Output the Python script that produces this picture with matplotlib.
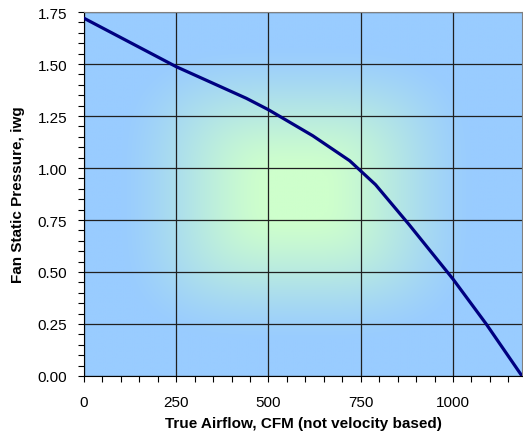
import numpy as np
import matplotlib
matplotlib.use("Agg")
import matplotlib.pyplot as plt
from matplotlib.ticker import MultipleLocator, FormatStrFormatter

# Data
airflow_cfm = [0, 250, 440, 500, 620, 720, 790, 880, 1000, 1090, 1187]
static_pressure = [1.72, 1.487, 1.335, 1.28, 1.155, 1.035, 0.92, 0.73, 0.466, 0.25, 0.0]
x_ticks = [0, 250, 500, 750, 1000]
y_ticks = [0.00, 0.25, 0.50, 0.75, 1.00, 1.25, 1.50, 1.75]

plt.rcParams['font.family'] = ['Liberation Sans', 'DejaVu Sans']

fig = plt.figure(figsize=(5.23, 4.39), dpi=100)
ax = fig.add_axes([84/523, 1-377/439, (522-84)/523, (377-13)/439])

xmax = airflow_cfm[-1]
ymax = 1.75

# background: rounded-rectangular gradient from center (green) to edges (blue)
n = 400
u = np.linspace(-1, 1, n)
U, V = np.meshgrid(u, u)
p = 3.5
t = (np.abs(U + 0.03) ** p + np.abs(V) ** p) ** (1 / p)
s = np.clip((t - 0.15) / (0.80 - 0.15), 0, 1)
s = 0.5 * s + 0.5 * s * s * (3 - 2 * s)
c_center = np.array([206, 255, 204]) / 255
c_edge = np.array([153, 204, 255]) / 255
img = c_center[None, None, :] * (1 - s[..., None]) + c_edge[None, None, :] * s[..., None]
ax.imshow(img, extent=[0, xmax, 0, ymax], aspect='auto', zorder=0, interpolation='bilinear')

ax.plot(airflow_cfm, static_pressure, color='#000080', lw=2.3, zorder=3, solid_joinstyle='round')

ax.set_xlim(0, xmax)
ax.set_ylim(0, ymax)
ax.set_xticks(x_ticks)
ax.set_yticks(y_ticks)
ax.yaxis.set_major_formatter(FormatStrFormatter('%.2f'))
ax.xaxis.set_minor_locator(MultipleLocator(50))
ax.yaxis.set_minor_locator(MultipleLocator(0.05))
ax.grid(True, which='major', color='#202020', lw=0.9)
ax.tick_params(which='both', direction='out', length=4, width=0.8, color='black', labelsize=11)
ax.tick_params(axis='x', which='major', pad=10)
ax.tick_params(axis='y', which='major', pad=8)

for sp in ['top', 'right']:
    ax.spines[sp].set_color('#808080')
for sp in ['left', 'bottom']:
    ax.spines[sp].set_color('black')

ax.set_xlabel('True Airflow, CFM (not velocity based)', fontsize=11, fontweight='bold', labelpad=5)
ax.set_ylabel('Fan Static Pressure, iwg', fontsize=11, fontweight='bold', labelpad=9)

fig.savefig('out.png', dpi=100)
